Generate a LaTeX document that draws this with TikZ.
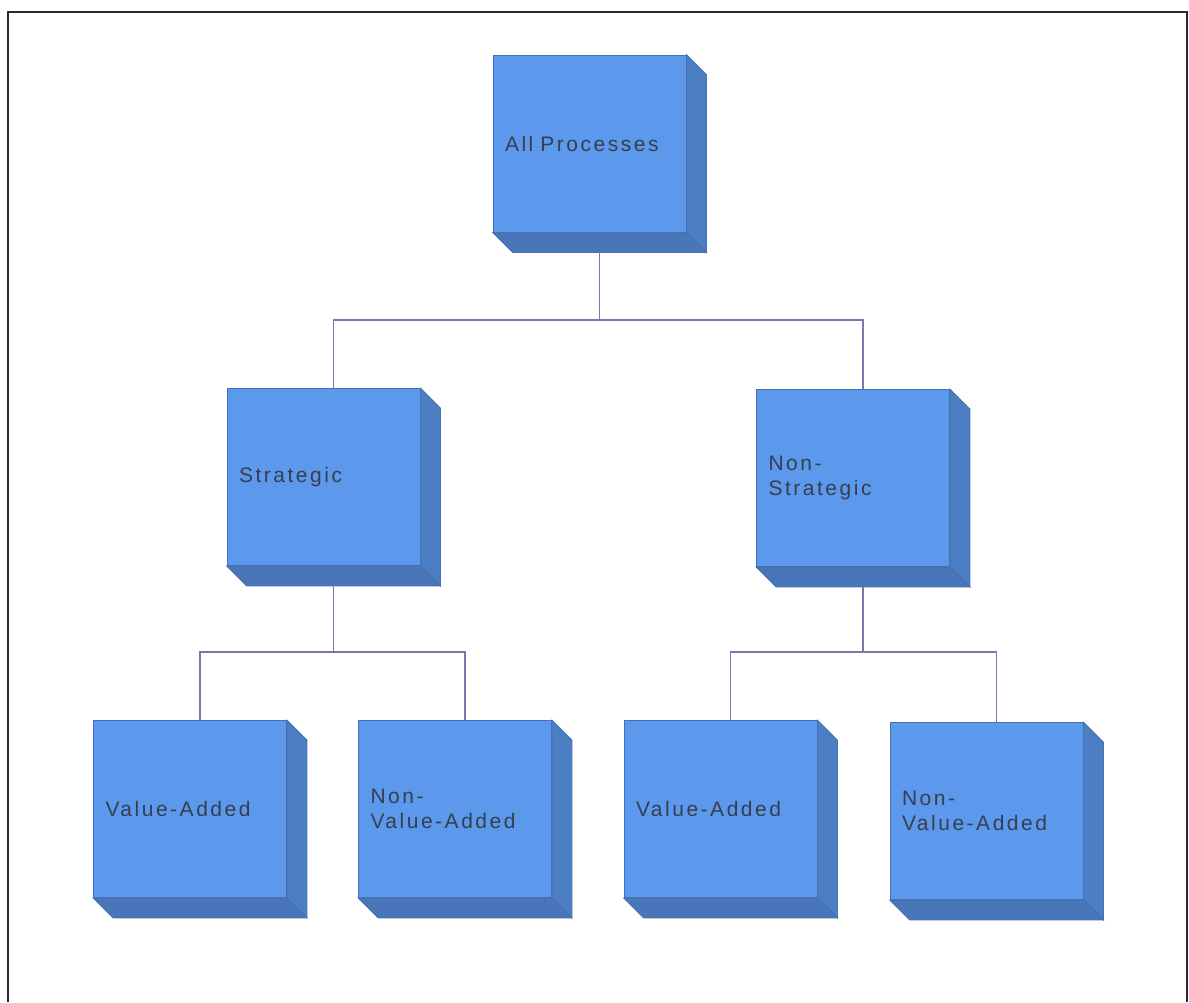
\documentclass[tikz,border=0pt]{standalone}
\usepackage{fontspec}
\setmainfont{Liberation Sans}[LetterSpace=12]
\usetikzlibrary{calc}
\definecolor{facefront}{RGB}{92,152,236}
\definecolor{faceside}{RGB}{76,126,196}
\definecolor{facebottom}{RGB}{72,118,184}
\definecolor{faceedge}{RGB}{70,112,178}
\definecolor{conncol}{RGB}{120,120,170}
\definecolor{txtcol}{RGB}{55,62,78}
\definecolor{framecol}{RGB}{42,38,56}
\tikzset{
  cubeface/.style={rectangle, fill=facefront, draw=faceedge, line width=0.8pt,
    minimum height=177pt, text width=169pt, inner xsep=12pt, inner ysep=0pt,
    align=left, text=txtcol, font=\fontsize{21}{25}\selectfont},
  sideface/.style={fill=faceside, draw=faceedge, line width=0.8pt},
  bottomface/.style={fill=facebottom, draw=faceedge, line width=0.8pt},
  conn/.style={draw=conncol, line width=1.4pt},
  framestyle/.style={draw=framecol, line width=2.6pt}
}
\newcommand{\cubeat}[4]{%
  \node[cubeface] (#1) at (#2,#3) {#4};
  \fill[sideface] (#1.north east) -- ++(20,20) -- ($(#1.south east)+(20,20)$) -- (#1.south east) -- cycle;
  \fill[bottomface] (#1.south west) -- (#1.south east) -- ++(20,20) -- ($(#1.south west)+(20,20)$) -- cycle;
}
\begin{document}
\begin{tikzpicture}[x=1pt,y=-1pt]
\useasboundingbox (0,0) rectangle (1189,1002);
\fill[white] (0,0) rectangle (1189,1002);
\draw[framestyle] (8,1002) -- (8,12) -- (1187,12) -- (1187,1002);

\cubeat{top}{589.5}{143.5}{All Processes}
\cubeat{strat}{323.5}{477}{Strategic}
\cubeat{nstrat}{853}{478}{Non-\\Strategic}
\cubeat{vaa}{190}{809}{Value-Added}
\cubeat{nvaa}{455}{809}{Non-\\Value-Added}
\cubeat{vab}{720.5}{809}{Value-Added}
\cubeat{nvab}{986.5}{811}{Non-\\Value-Added}

\coordinate (hubA) at (599.5,320);
\coordinate (hubB) at (333.5,652);
\coordinate (hubC) at (863,652);

\draw[conn] ($(top.south)+(10,20)$) -- (hubA);
\draw[conn] ($(strat.north)+(10,0)$) |- (hubA) -| ($(nstrat.north)+(10,0)$);
\draw[conn] ($(strat.south)+(10,20)$) -- (hubB);
\draw[conn] ($(vaa.north)+(10,0)$) |- (hubB) -| ($(nvaa.north)+(10,0)$);
\draw[conn] ($(nstrat.south)+(10,20)$) -- (hubC);
\draw[conn] ($(vab.north)+(10,0)$) |- (hubC) -| ($(nvab.north)+(10,0)$);
\end{tikzpicture}
\end{document}
